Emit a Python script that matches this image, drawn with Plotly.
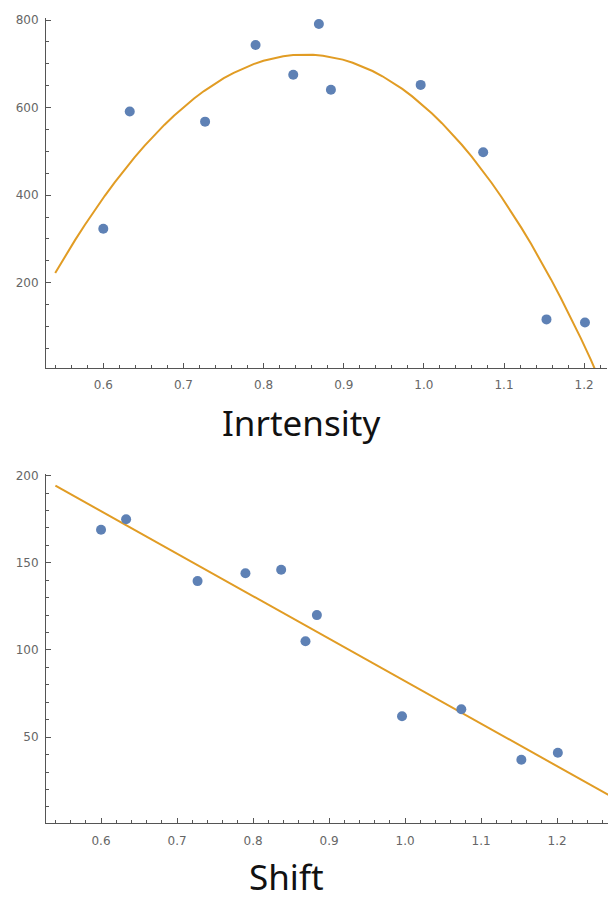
import numpy as np
import plotly.graph_objects as go

# Measurements: relative position and the two responses
ratio = [0.600, 0.633, 0.727, 0.790, 0.837, 0.869, 0.884, 0.996, 1.074, 1.153, 1.201]
intensity = [323, 591, 568, 743, 675, 791, 641, 652, 498, 116, 109]
shift = [169, 175, 139.5, 144, 146, 105, 120, 62, 66, 37, 41]

x_ticks = [0.6, 0.7, 0.8, 0.9, 1.0, 1.1, 1.2]
x_ticktext = ["0.6", "0.7", "0.8", "0.9", "1.0", "1.1", "1.2"]

POINT = "#5E81B5"
FIT = "#E19C24"
AXIS = "#555555"
TICKFONT = dict(family="DejaVu Sans", size=12, color="#666666")
TITLEFONT = dict(family="Noto Sans", size=35, color="#111111")

# Least-squares fits: cubic for intensity, straight line for shift
xs = np.linspace(0.54, 1.27, 60)
q = np.polyfit(ratio, intensity, 3)
l = np.polyfit(ratio, shift, 1)

fig = go.Figure()
fig.add_trace(go.Scatter(x=xs, y=np.polyval(q, xs), mode="lines",
                         line=dict(color=FIT, width=2), xaxis="x", yaxis="y"))
fig.add_trace(go.Scatter(x=ratio, y=intensity, mode="markers",
                         marker=dict(color=POINT, size=10), xaxis="x", yaxis="y"))
fig.add_trace(go.Scatter(x=xs, y=np.polyval(l, xs), mode="lines",
                         line=dict(color=FIT, width=2), xaxis="x2", yaxis="y2"))
fig.add_trace(go.Scatter(x=ratio, y=shift, mode="markers",
                         marker=dict(color=POINT, size=10), xaxis="x2", yaxis="y2"))


def xaxis(domain, rng, anchor):
    return dict(domain=domain, range=rng, anchor=anchor, showgrid=False, zeroline=False,
                showline=True, linecolor=AXIS, linewidth=1,
                tickvals=x_ticks, ticktext=x_ticktext, ticks="inside", ticklen=5,
                tickcolor=AXIS, tickfont=TICKFONT, ticklabelstandoff=6,
                minor=dict(dtick=0.02, tick0=0.6, ticks="inside", ticklen=3, tickcolor=AXIS))


def yaxis(domain, rng, anchor, dtick, minor):
    return dict(domain=domain, range=rng, anchor=anchor, showgrid=False, zeroline=False,
                showline=True, linecolor=AXIS, linewidth=1,
                tick0=0, dtick=dtick, ticks="inside", ticklen=5, tickcolor=AXIS,
                tickfont=TICKFONT, ticklabelstandoff=4,
                minor=dict(dtick=minor, tick0=0, ticks="inside", ticklen=3, tickcolor=AXIS))


yt = yaxis([1 - 365 / 900, 1 - 13 / 900], [5, 805], "x", 200, 50)
yt["tickvals"] = [200, 400, 600, 800]
fig.update_layout(
    width=610, height=900,
    margin=dict(l=0, r=0, t=0, b=0),
    paper_bgcolor="white", plot_bgcolor="white",
    showlegend=False,
    xaxis=xaxis([46 / 610, 607 / 610], [0.5285, 1.2285], "y"),
    yaxis=yt,
    xaxis2=xaxis([46 / 610, 608 / 610], [0.5276, 1.267], "y2"),
    yaxis2=yaxis([1 - 823 / 900, 1 - 471.5 / 900], [0.5, 201], "x2", 50, 10),
    annotations=[
        dict(text="Inrtensity", x=301 / 610, y=1 - 420 / 900, xref="paper", yref="paper",
             xanchor="center", yanchor="middle", showarrow=False, font=TITLEFONT),
        dict(text="Shift", x=286 / 610, y=1 - 876 / 900, xref="paper", yref="paper",
             xanchor="center", yanchor="middle", showarrow=False, font=TITLEFONT),
    ],
)

fig.write_html("out.html")
